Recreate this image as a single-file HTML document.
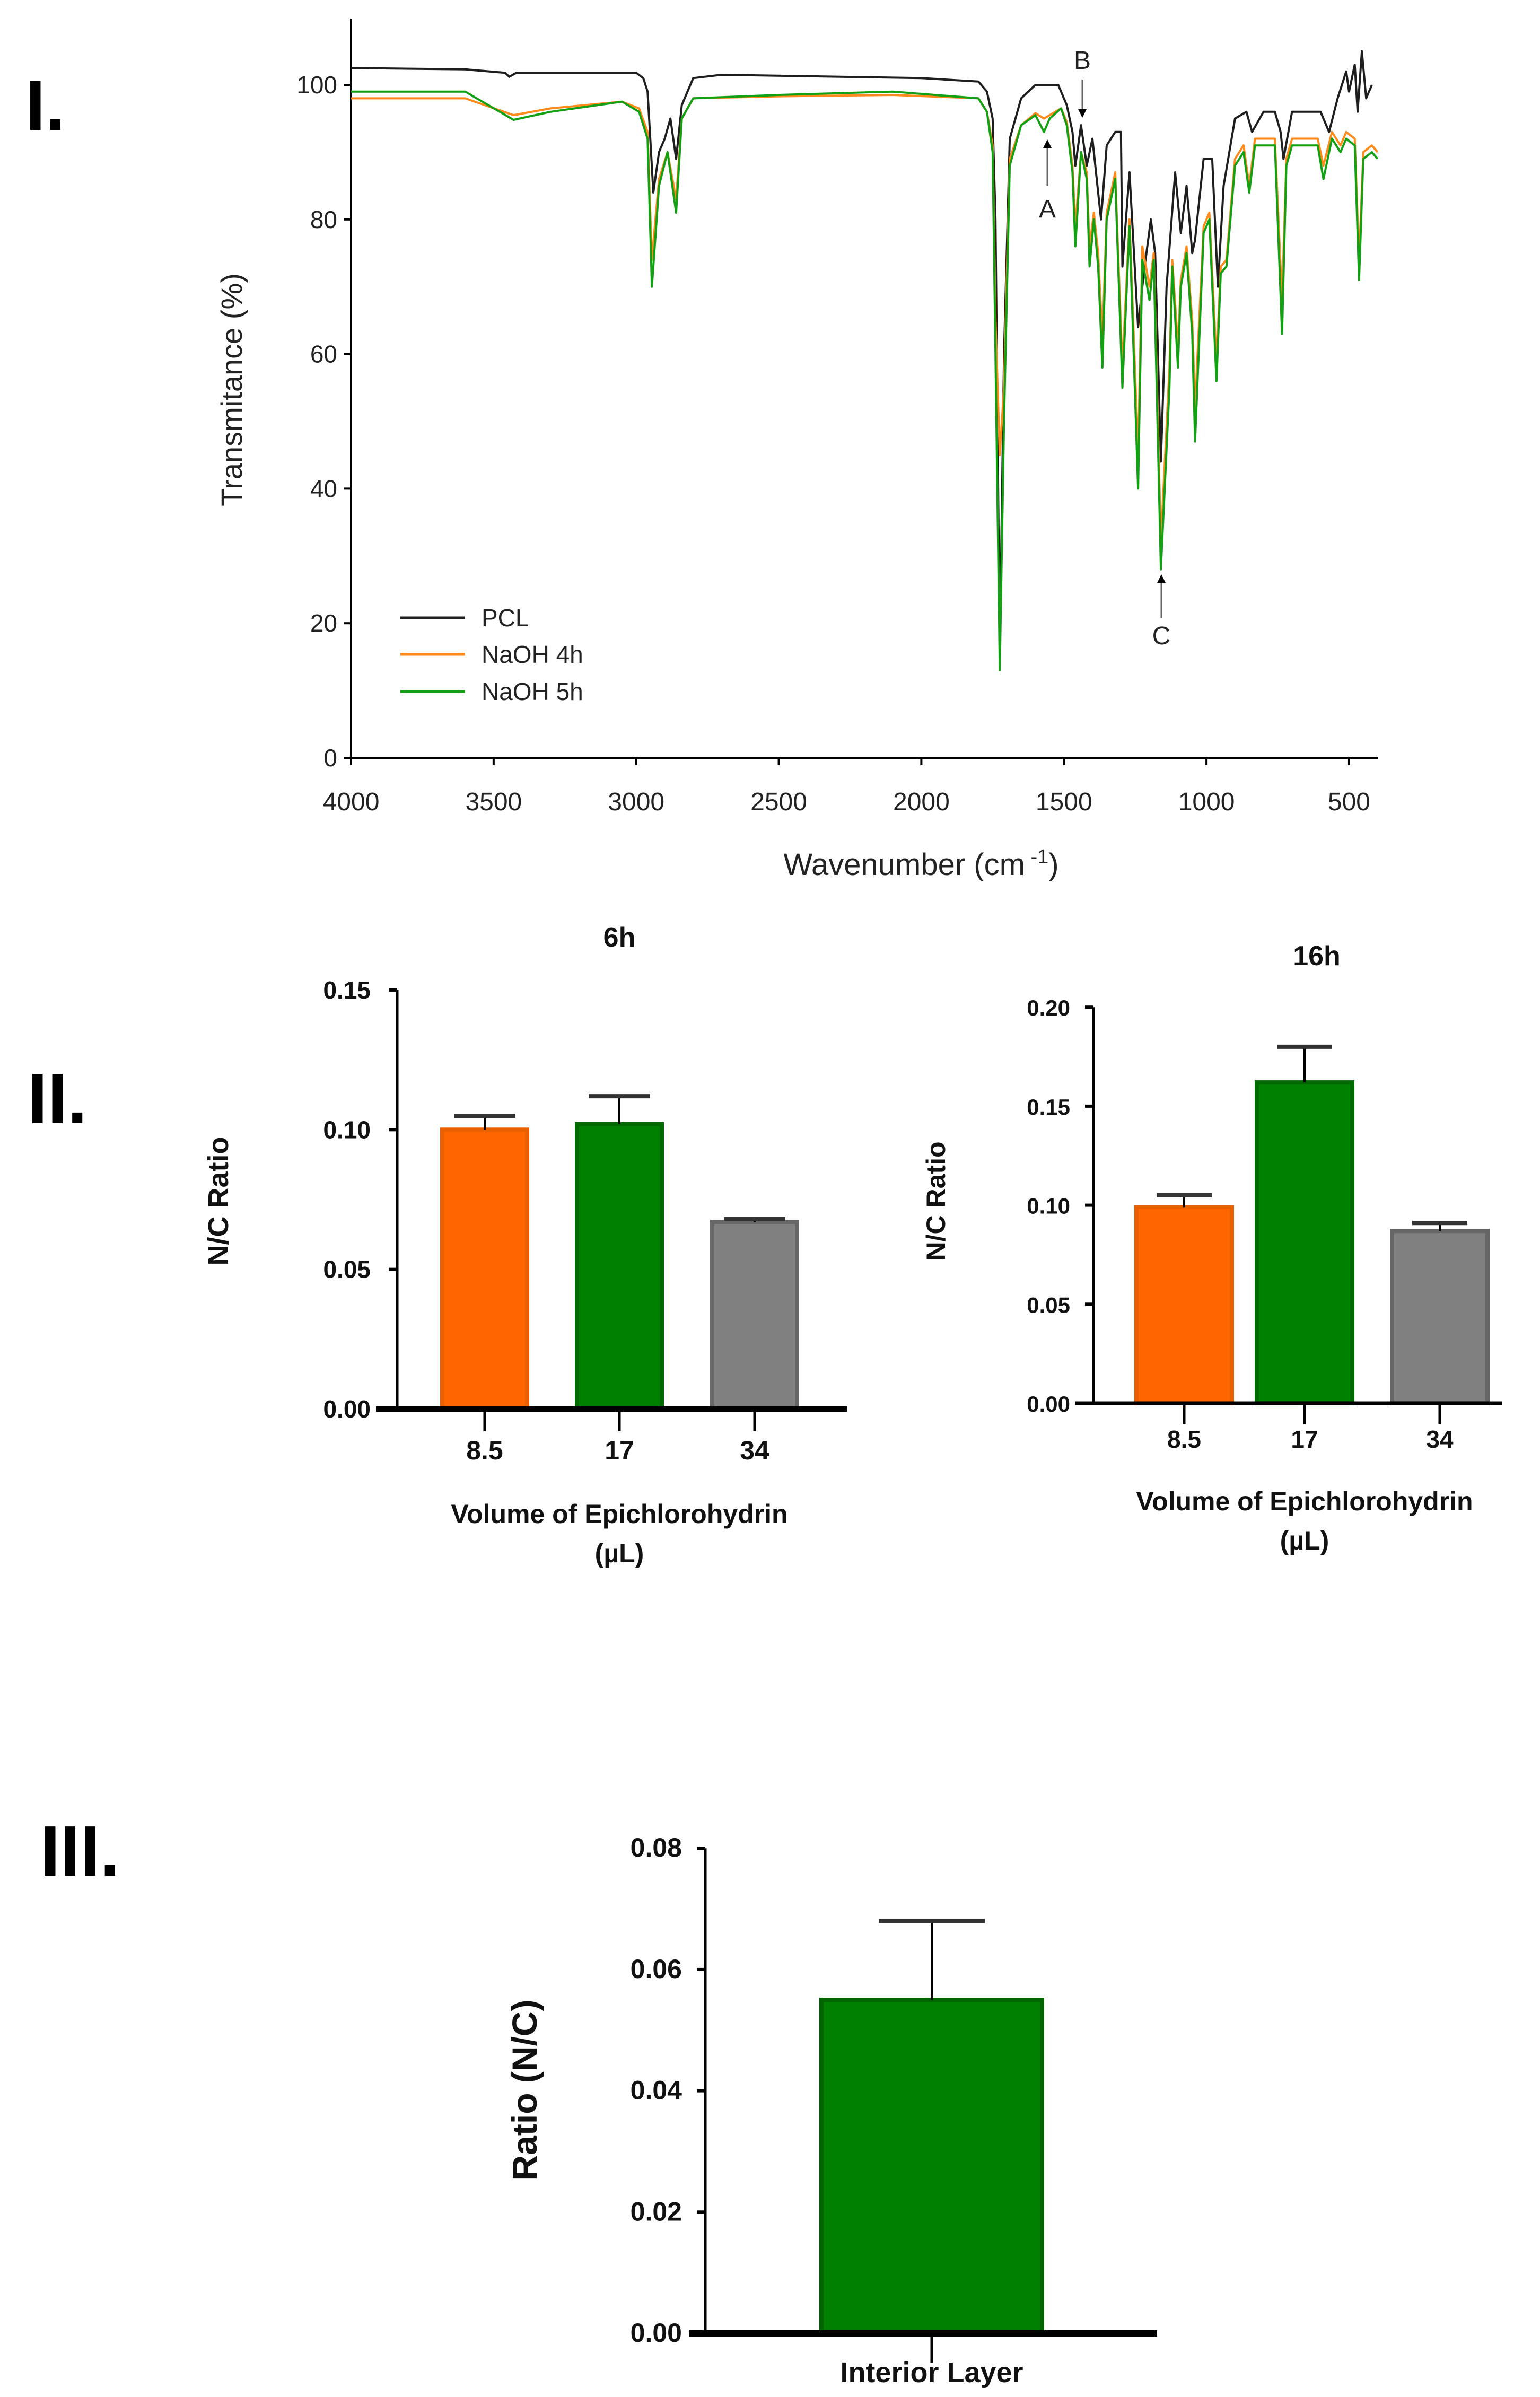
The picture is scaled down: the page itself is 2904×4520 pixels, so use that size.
<!DOCTYPE html>
<html><head><meta charset="utf-8">
<style>
html,body{margin:0;padding:0;background:#fff;}
svg{display:block;font-family:"Liberation Sans",Arial,sans-serif;}
</style></head>
<body>
<svg id="fig" width="2904" height="4520" viewBox="0 0 2904 4520" xmlns="http://www.w3.org/2000/svg">
<rect width="2904" height="4520" fill="#fff"/>
<text x="48" y="245" font-size="135" font-weight="bold">I.</text>
<text x="52" y="2118" font-size="135" font-weight="bold">II.</text>
<text x="76" y="3537" font-size="135" font-weight="bold">III.</text>

<g id="p1"></g>
<g id="p2"></g>
<g id="p3"></g>
<g id="p4"></g>
</svg>
<script>
// ---------- Panel I data ----------
const pclWave = [4000,3600,3460,3445,3420,3000,2975,2960,2940,2920,2900,2880,2860,2840,2800,2700,2000,1800,1770,1750,1740,1725,1710,1690,1650,1600,1520,1490,1470,1460,1440,1420,1400,1370,1350,1320,1300,1295,1270,1240,1220,1195,1180,1160,1140,1110,1090,1070,1050,1040,1010,980,960,940,900,860,840,800,760,740,730,700,600,570,540,510,500,480,470,455,440,420];
const pclT    = [102.5,102.3,101.8,101.2,101.8,101.8,101,99,84,90,92,95,89,97,101,101.5,101,100.5,99,95,80,15,60,92,98,100,100,97,93,88,94,88,92,80,91,93,93,73,87,64,72,80,75,44,70,87,78,85,75,77,89,89,70,85,95,96,93,96,96,93,89,96,96,93,98,102,99,103,96,105,98,100];
const naWave  = [4000,3600,3430,3300,3050,2990,2960,2945,2920,2890,2860,2840,2800,2500,2100,1800,1770,1750,1740,1725,1710,1690,1650,1600,1570,1550,1510,1490,1470,1460,1440,1420,1410,1395,1380,1365,1350,1320,1295,1270,1240,1225,1200,1185,1160,1130,1120,1100,1090,1070,1050,1040,1010,990,965,950,930,900,870,850,830,760,735,720,700,610,590,560,530,510,480,465,450,420,400];
const na5T    = [99,99,94.8,96,97.5,96,92,70,85,90,81,95,98,98.5,99,98,96,90,60,13,50,88,94,95.5,93,95,96.5,94,87,76,90,86,73,80,73,58,80,86,55,79,40,74,68,74,28,55,73,58,70,75,63,47,78,80,56,72,73,88,90,84,91,91,63,88,91,91,86,92,90,92,91,71,89,90,89];
const na4T    = [98,98,95.5,96.5,97.5,96.5,93,74,86,90,83,95,98,98.3,98.5,98,96,91,65,45,55,89,94,95.8,95,95.5,96.5,94.5,88,79,90,87,76,81,75,62,81,87,58,80,45,76,70,75,32,58,74,61,71,76,65,52,79,81,59,73,74,89,91,85,92,92,68,89,92,92,88,93,91,93,92,74,90,91,90];
const xTicks1 = [4000,3500,3000,2500,2000,1500,1000,500];
const yTicks1 = [0,20,40,60,80,100];
const legendNames = ["PCL","NaOH 4h","NaOH 5h"];

// ---------- Panel II / III data ----------
const catsII = ["8.5","17","34"];
const vals6h = [0.100,0.102,0.067];
const err6h  = [0.105,0.112,0.068];
const ticks6h = [0.00,0.05,0.10,0.15];
const vals16h = [0.099,0.162,0.087];
const err16h  = [0.105,0.180,0.091];
const ticks16h = [0.00,0.05,0.10,0.15,0.20];
const catsIII = ["Interior Layer"];
const valsIII = [0.055];
const errIII  = [0.068];
const ticksIII = [0.00,0.02,0.04,0.06,0.08];

const NS = "http://www.w3.org/2000/svg";
function mk(tag, parent, attrs){
  const e = document.createElementNS(NS, tag);
  for (const k in attrs) e.setAttribute(k, attrs[k]);
  parent.appendChild(e);
  return e;
}

// ===== Panel I =====
(function(){
  const g = document.getElementById('p1');
  const sx = w => 662 + (4000 - w) * 0.5377;
  const sy = v => 1429 - v * 12.69;
  let e;
  e = mk('line', g, {x1:662,y1:35,x2:662,y2:1429,stroke:'#000','stroke-width':4});
  
  
  e = mk('line', g, {x1:660,y1:1429,x2:2599,y2:1429,stroke:'#000','stroke-width':4});
  
  
  yTicks1.forEach(v=>{
    e = mk('line', g, {x1:648,y1:sy(v),x2:662,y2:sy(v),stroke:'#000','stroke-width':4});
    
    
    e = mk('text', g, {x:636,y:sy(v)+16,'font-size':46,'text-anchor':'end',fill:'#222'});
    e.textContent = v;
    
    
  });
  xTicks1.forEach(w=>{
    e = mk('line', g, {x1:sx(w),y1:1429,x2:sx(w),y2:1443,stroke:'#000','stroke-width':4});
    
    
    e = mk('text', g, {x:sx(w),y:1528,'font-size':48,'text-anchor':'middle',fill:'#222'});
    e.textContent = w;
    
    
  });
  e = mk('text', g, {x:1737,y:1650,'font-size':58,'text-anchor':'middle',fill:'#222'});
  e.innerHTML = 'Wavenumber (cm<tspan dy="-22" font-size="38"> -1</tspan><tspan dy="22">)</tspan>';
  
  
  e = mk('text', g, {x:0,y:0,'font-size':56,'text-anchor':'middle',fill:'#222',transform:'translate(456,735) rotate(-90)'});
  e.textContent = 'Transmitance (%)';
  
  

  const series = [
    {w:pclWave,t:pclT,c:'#1e1e1e',n:'series-pcl'},
    {w:naWave,t:na4T,c:'#ff8a1c',n:'series-naoh-4h'},
    {w:naWave,t:na5T,c:'#14a014',n:'series-naoh-5h'}
  ];
  series.forEach(s=>{
    const d = s.w.map((w,i)=>(i?'L':'M')+sx(w).toFixed(1)+','+sy(s.t[i]).toFixed(1)).join(' ');
    e = mk('path', g, {d:d,fill:'none',stroke:s.c,'stroke-width':4,'stroke-linejoin':'round'});
    
    
  });
  const lc = ['#1e1e1e','#ff8a1c','#14a014'];
  const ly = [1165,1234,1304];
  legendNames.forEach((n,i)=>{
    e = mk('line', g, {x1:755,y1:ly[i],x2:877,y2:ly[i],stroke:lc[i],'stroke-width':5});
    
    
    e = mk('text', g, {x:908,y:ly[i]+16,'font-size':46,fill:'#222'});
    e.textContent = n;
    
    
  });
  const ann = [
    {t:'A',x:1975,ty:410,l1:265,l2:350,up:true},
    {t:'B',x:2041,ty:130,l1:150,l2:220,up:false},
    {t:'C',x:2190,ty:1215,l1:1085,l2:1165,up:true}
  ];
  ann.forEach(a=>{
    e = mk('line', g, {x1:a.x,y1:a.l1,x2:a.x,y2:a.l2,stroke:'#666','stroke-width':3});
    
    
    const p = a.up ? `M${a.x-8},${a.l1+14} L${a.x+8},${a.l1+14} L${a.x},${a.l1-2}Z` : `M${a.x-8},${a.l2-14} L${a.x+8},${a.l2-14} L${a.x},${a.l2+2}Z`;
    e = mk('path', g, {d:p,fill:'#000'});
    
    
    e = mk('text', g, {x:a.x,y:a.ty,'font-size':48,'text-anchor':'middle',fill:'#222'});
    e.textContent = a.t;
    
    
  });
})();

// ===== Bar chart helper =====
function barChart(g, cfg){
  const y = v => cfg.y0 - v * cfg.k;
  let e;
  const colors = cfg.colors;
  cfg.vals.forEach((v,i)=>{
    const cx = cfg.cx[i], w = cfg.bw;
    e = mk('rect', g, {x:cx-w/2,y:y(v),width:w,height:cfg.y0-y(v),fill:colors[i][0],stroke:colors[i][1],'stroke-width':8});
    
    
    e = mk('line', g, {x1:cx,y1:y(cfg.errs[i]),x2:cx,y2:y(v),stroke:'#000','stroke-width':4});
    
    
    e = mk('line', g, {x1:cx-cfg.cap,y1:y(cfg.errs[i]),x2:cx+cfg.cap,y2:y(cfg.errs[i]),stroke:'#333','stroke-width':8});
    
    
    e = mk('line', g, {x1:cx,y1:cfg.y0,x2:cx,y2:cfg.y0+cfg.tickLen,stroke:'#000','stroke-width':5});
    
    
    e = mk('text', g, {x:cx,y:cfg.xLabY,'font-size':cfg.fs,'font-weight':'bold','text-anchor':'middle',fill:'#111'});
    e.textContent = cfg.cats[i];
    
    
  });
  e = mk('line', g, {x1:cfg.ax,y1:y(cfg.ticks[cfg.ticks.length-1]),x2:cfg.ax,y2:cfg.y0,stroke:'#000','stroke-width':5});
  
  
  e = mk('line', g, {x1:cfg.xa0,y1:cfg.y0,x2:cfg.xa1,y2:cfg.y0,stroke:'#000','stroke-width':cfg.xw});
  
  
  cfg.ticks.forEach(t=>{
    e = mk('line', g, {x1:cfg.ax-16,y1:y(t),x2:cfg.ax,y2:y(t),stroke:'#000','stroke-width':6});
    
    
    e = mk('text', g, {x:cfg.ax-cfg.lblGap,y:y(t)+16,'font-size':cfg.tfs,'font-weight':'bold','text-anchor':'end',fill:'#111'});
    e.textContent = t.toFixed(2);
    
    
  });
  e = mk('text', g, {x:0,y:0,'font-size':cfg.yfs,'font-weight':'bold','text-anchor':'middle',fill:'#111',transform:`translate(${cfg.ylx},${cfg.yly}) rotate(-90)`});
  e.textContent = cfg.ytitle;
  
  
  if (cfg.title){
    e = mk('text', g, {x:cfg.titleX,y:cfg.titleY,'font-size':52,'font-weight':'bold','text-anchor':'middle',fill:'#111'});
    e.textContent = cfg.title;
    
    
  }
  if (cfg.xtitle){
    e = mk('text', g, {x:cfg.xtX,y:cfg.xtY,'font-size':50,'font-weight':'bold','text-anchor':'middle',fill:'#111'});
    e.textContent = cfg.xtitle;
    
    
    e = mk('text', g, {x:cfg.xtX,y:cfg.xtY+74,'font-size':50,'font-weight':'bold','text-anchor':'middle',fill:'#111'});
    e.textContent = '(\u00b5L)';
    
    
  }
}
const cols3 = [['#ff6600','#e86000'],['#008000','#006a00'],['#808080','#666666']];
barChart(document.getElementById('p2'), {
  y0:2657,k:5267,cats:catsII,vals:vals6h,errs:err6h,ticks:ticks6h,cx:[914,1168,1423],bw:160,cap:58,
  colors:cols3,ax:749,xa0:709,xa1:1597,xw:10,tickLen:42,xLabY:2752,fs:50,tfs:46,lblGap:50,
  ylx:430,yly:2265,yfs:54,ytitle:'N/C Ratio',title:'6h',titleX:1168,titleY:1785,
  xtitle:'Volume of Epichlorohydrin',xtX:1168,xtY:2872
});
barChart(document.getElementById('p3'), {
  y0:2646,k:3734,cats:catsII,vals:vals16h,errs:err16h,ticks:ticks16h,cx:[2233,2460,2715],bw:180,cap:52,
  colors:cols3,ax:2062,xa0:2027,xa1:2832,xw:7,tickLen:40,xLabY:2730,fs:46,tfs:42,lblGap:44,
  ylx:1782,yly:2265,yfs:50,ytitle:'N/C Ratio',title:'16h',titleX:2483,titleY:1820,
  xtitle:'Volume of Epichlorohydrin',xtX:2460,xtY:2848
});
barChart(document.getElementById('p4'), {
  y0:4400,k:11435,cats:catsIII,vals:valsIII,errs:errIII,ticks:ticksIII,cx:[1757],bw:416,cap:100,
  colors:[['#008000','#006400']],ax:1330,xa0:1300,xa1:2182,xw:12,tickLen:55,xLabY:4492,fs:54,tfs:50,lblGap:44,
  ylx:1012,yly:3941,yfs:66,ytitle:'Ratio (N/C)'
});
</script>
</body></html>
